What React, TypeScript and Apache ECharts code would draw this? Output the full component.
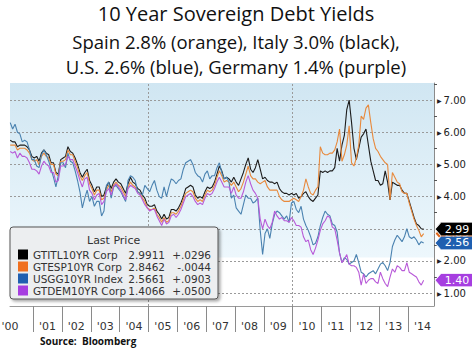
import React, { useEffect, useRef } from "react";
import * as echarts from "echarts";

// ---- data (monthly, Mar 2000 .. Jul 2014) ----
const START_YEAR = 2000;
const START_MONTH = 3;

const italy = [
  5.75, 5.7, 5.7, 5.55, 5.6, 5.6, 5.6, 5.55, 5.45, 5.25,
  5.2, 5.25, 5.1, 5.35, 5.45, 5.35, 5.3, 5.05, 5.05, 4.75, 4.7, 5.15,
  5.2, 5.25, 5.55, 5.4, 5.35, 5.2, 5.0, 4.75, 4.6, 4.75, 4.85, 4.5,
  4.35, 4.15, 4.3, 4.3, 4.0, 4.05, 4.3, 4.45, 4.25, 4.45, 4.55, 4.45,
  4.4, 4.25, 4.1, 4.4, 4.6, 4.45, 4.4, 4.25, 4.2, 4.05, 3.95, 3.75,
  3.7, 3.7, 3.75, 3.55, 3.45, 3.3, 3.45, 3.3, 3.35, 3.6, 3.6, 3.55,
  3.65, 3.8, 4.0, 4.25, 4.3, 4.35, 4.3, 4.05, 3.95, 4.0, 3.95, 4.15,
  4.3, 4.25, 4.3, 4.45, 4.7, 4.95, 4.8, 4.55, 4.6, 4.55, 4.45, 4.6,
  4.45, 4.35, 4.55, 4.75, 5.0, 5.2, 4.85, 4.75, 4.9, 5.15, 4.85, 4.55,
  4.6, 4.5, 4.45, 4.45, 4.4, 4.45, 4.25, 4.15, 4.1, 4.1, 4.05, 4.1,
  4.05, 4.1, 3.95, 4.0, 4.1, 4.15, 4.0, 3.9, 3.85, 3.95, 4.05, 4.8,
  4.75, 4.8, 4.75, 4.8, 4.8, 4.9, 5.5, 5.1, 5.6, 5.9, 6.7, 7.0,
  6.3, 5.5, 5.15, 5.5, 5.85, 5.95, 6.1, 5.6, 5.1, 4.8, 4.5, 4.5,
  4.35, 4.4, 4.8, 4.45, 3.9, 4.45, 4.4, 4.35, 4.35, 4.2, 4.1, 4.1,
  3.85, 3.6, 3.35, 3.15, 3.1, 3.0, 2.99,
];

const spain = [
  5.6, 5.6, 5.6, 5.45, 5.5, 5.5, 5.5, 5.45, 5.35, 5.15,
  5.1, 5.15, 5.0, 5.25, 5.35, 5.25, 5.2, 5.0, 5.0, 4.7, 4.65, 5.1,
  5.1, 5.15, 5.45, 5.3, 5.3, 5.1, 4.9, 4.65, 4.5, 4.65, 4.75, 4.4,
  4.25, 4.05, 4.2, 4.2, 3.9, 3.95, 4.2, 4.35, 4.15, 4.35, 4.45, 4.35,
  4.3, 4.15, 4.0, 4.3, 4.45, 4.35, 4.3, 4.15, 4.1, 3.95, 3.85, 3.65,
  3.6, 3.6, 3.65, 3.45, 3.35, 3.2, 3.35, 3.2, 3.25, 3.5, 3.5, 3.45,
  3.55, 3.7, 3.9, 4.1, 4.15, 4.2, 4.15, 3.95, 3.85, 3.9, 3.85, 4.05,
  4.2, 4.15, 4.2, 4.35, 4.6, 4.8, 4.65, 4.45, 4.5, 4.45, 4.35, 4.45,
  4.3, 4.15, 4.25, 4.45, 4.7, 4.95, 4.65, 4.55, 4.55, 4.45, 4.4, 4.45,
  4.5, 4.3, 4.2, 4.2, 4.2, 4.2, 4.0, 3.9, 3.85, 3.85, 3.85, 3.9,
  3.95, 3.9, 3.85, 4.0, 4.2, 4.55, 4.3, 4.1, 4.05, 4.2, 4.3, 5.55,
  5.35, 5.3, 5.3, 5.35, 5.35, 5.45, 5.7, 6.1, 5.1, 5.3, 5.6, 6.2,
  5.05, 4.95, 5.2, 5.6, 6.5, 6.4, 6.75, 6.85, 6.3, 5.8, 5.5, 5.4,
  5.25, 5.15, 5.05, 5.0, 3.9, 4.75, 4.6, 4.45, 4.4, 4.15, 4.1, 4.1,
  3.8, 3.55, 3.3, 3.1, 2.95, 2.75, 2.85,
];

const us = [
  6.3, 6.1, 6.25, 6.0, 5.95, 5.7, 5.75, 5.7, 5.45, 5.15,
  5.15, 4.95, 4.9, 5.3, 5.45, 5.3, 5.1, 4.85, 4.6, 4.3, 4.65, 5.05,
  5.05, 4.9, 5.35, 5.1, 5.05, 4.8, 4.5, 4.15, 3.65, 3.95, 4.2, 3.85,
  4.0, 3.7, 3.85, 3.85, 3.4, 3.55, 4.35, 4.45, 3.95, 4.3, 4.35, 4.25,
  4.15, 4.0, 3.85, 4.5, 4.65, 4.6, 4.5, 4.15, 4.1, 4.05, 4.35, 4.25,
  4.15, 4.35, 4.5, 4.2, 4.0, 3.95, 4.3, 4.0, 4.3, 4.55, 4.5, 4.4,
  4.5, 4.55, 4.85, 5.05, 5.1, 5.15, 5.0, 4.75, 4.65, 4.6, 4.45, 4.7,
  4.8, 4.55, 4.65, 4.65, 4.9, 5.05, 4.75, 4.55, 4.6, 4.45, 3.95, 4.05,
  3.65, 3.55, 3.45, 3.75, 4.05, 3.95, 3.95, 3.8, 3.85, 3.95, 2.95, 2.2,
  2.85, 3.0, 2.7, 3.15, 3.45, 3.55, 3.5, 3.4, 3.3, 3.4, 3.2, 3.8,
  3.85, 3.6, 3.5, 3.7, 3.3, 3.1, 2.95, 2.75, 2.5, 2.55, 2.75, 3.1,
  3.35, 3.55, 3.45, 3.4, 3.15, 3.1, 2.9, 2.25, 1.95, 2.1, 2.05, 1.9,
  1.95, 2.0, 2.2, 1.95, 1.65, 1.6, 1.5, 1.6, 1.65, 1.7, 1.6, 1.75,
  1.9, 1.95, 1.85, 1.7, 1.95, 2.45, 2.65, 2.8, 2.7, 2.6, 2.75, 3.0,
  2.75, 2.7, 2.75, 2.65, 2.5, 2.6, 2.56,
];

const germany = [
  5.4, 5.35, 5.4, 5.2, 5.35, 5.25, 5.25, 5.2, 5.05, 4.85,
  4.85, 4.8, 4.7, 4.95, 5.1, 5.0, 4.95, 4.75, 4.75, 4.45, 4.5, 4.95,
  4.95, 5.0, 5.25, 5.15, 5.15, 4.95, 4.75, 4.5, 4.3, 4.55, 4.6, 4.2,
  4.1, 3.9, 4.05, 4.1, 3.75, 3.85, 4.15, 4.25, 4.05, 4.3, 4.4, 4.3,
  4.2, 4.05, 3.9, 4.25, 4.35, 4.3, 4.25, 4.1, 4.05, 3.9, 3.75, 3.65,
  3.55, 3.6, 3.6, 3.4, 3.25, 3.1, 3.3, 3.15, 3.2, 3.4, 3.45, 3.35,
  3.45, 3.6, 3.8, 4.0, 4.05, 4.1, 4.0, 3.85, 3.75, 3.8, 3.75, 3.95,
  4.1, 4.05, 4.1, 4.25, 4.45, 4.6, 4.45, 4.3, 4.3, 4.3, 4.1, 4.3,
  4.05, 3.95, 3.95, 4.15, 4.45, 4.65, 4.4, 4.2, 4.1, 3.95, 3.3, 3.0,
  3.3, 3.1, 3.0, 3.2, 3.55, 3.4, 3.3, 3.35, 3.25, 3.25, 3.2, 3.35,
  3.25, 3.1, 3.1, 3.05, 2.75, 2.6, 2.65, 2.35, 2.2, 2.4, 2.65, 2.95,
  3.15, 3.25, 3.4, 3.35, 3.05, 3.0, 2.65, 2.25, 1.95, 2.05, 2.2, 1.9,
  1.85, 1.85, 1.8, 1.65, 1.25, 1.6, 1.3, 1.4, 1.45, 1.45, 1.35, 1.3,
  1.65, 1.45, 1.3, 1.2, 1.5, 1.75, 1.65, 1.85, 1.8, 1.7, 1.7, 1.95,
  1.65, 1.6, 1.55, 1.5, 1.35, 1.25, 1.4,
];

const seriesNames = ["GTITL10YR Corp", "GTESP10YR Corp", "USGG10YR Index", "GTDEM10YR Corp"];
const lastPrices = ["2.9911", "2.8462", "2.5661", "1.4066"];
const changes = ["+.0296", "-.0044", "+.0903", "+.0500"];
const lineColors = ["#1c1c1c", "#e8893c", "#4a82b0", "#b85ad8"];
const swatchColors = ["#000000", "#f07020", "#1f5fb0", "#a63ee0"];
const tagColors = ["#000000", "#e0661a", "#1f5fb0", "#a63ee0"];

const titleLines = [
  "10 Year Sovereign Debt Yields",
  "Spain 2.8% (orange), Italy 3.0% (black),",
  "U.S. 2.6% (blue), Germany 1.4% (purple)",
];

const yearTicks = [2001, 2002, 2003, 2004, 2005, 2006, 2007, 2008, 2009, 2010, 2011, 2012, 2013, 2014];
const yearLabels = ["'00", "'01", "'02", "'03", "'04", "'05", "'06", "'07", "'08", "'09", "'10", "'11", "'12", "'13", "'14"];
const yLabelValues = [1, 2, 3, 4, 5, 6, 7];
const yMinorValues = [1.5, 2.5, 3.5, 4.5, 5.5, 6.5, 7.5];
const verticalGridYears = [2005, 2010];

const X_MIN = 2000.2;
const X_MAX = 2014.9;
const Y_MIN = 0.6;
const Y_MAX = 7.53;

const labelPositions = yearLabels.map((_, i) => (i === 0 ? X_MIN : START_YEAR + i + 0.5));

function toPairs(values: number[]) {
  return values.map((v, i) => [START_YEAR + (START_MONTH - 1 + i + 0.5) / 12, v]);
}

const allSeries = [italy, spain, us, germany];
const tagZ = [7, 5, 7, 7];

export default function App() {
  const ref = useRef<HTMLDivElement>(null);

  useEffect(() => {
    if (!ref.current) return;
    const chart = echarts.init(ref.current, undefined, { renderer: "svg" });

    const series: any[] = allSeries.map((vals, i) => {
      const last = vals[vals.length - 1];
      const s: any = {
        name: seriesNames[i],
        type: "line",
        data: toPairs(vals),
        showSymbol: false,
        symbol: "none",
        clip: false,
        color: lineColors[i],
        lineStyle: { width: 1.1, color: lineColors[i] },
        z: 2,
        markPoint: {
          silent: true,
          z: tagZ[i],
          symbol: "path://M0,6.5 L6,0 L40,0 L40,13 L6,13 Z",
          symbolSize: [38, 13],
          symbolKeepAspect: false,
          symbolOffset: [20, 0],
          itemStyle: { color: tagColors[i], borderColor: "#ffffff", borderWidth: 0.6 },
          label: {
            show: true,
            color: "#ffffff",
            fontSize: 11,
            fontFamily: "DejaVu Sans",
            offset: [3, 0],
            formatter: (p: any) => Number(p.value).toFixed(2),
          },
          data: [{ coord: [X_MAX, last], value: last }],
        },
      };
      if (i === 0) {
        s.markLine = {
          silent: true,
          z: 1,
          symbol: ["none", "none"],
          label: { show: false },
          lineStyle: { color: "#9a9a9a", type: [2, 2], width: 1 },
          data: [
            ...yLabelValues.map((v) => ({ yAxis: v })),
            ...verticalGridYears.map((v) => ({ xAxis: v })),
          ],
        };
      }
      return s;
    });

    const titleStyle = (size: number) => ({
      fontFamily: "Open Sans",
      fontSize: size,
      fontWeight: "normal",
      color: "#111",
    });

    const option: any = {
      animation: false,
      backgroundColor: "#ffffff",
      title: [
        { text: titleLines[0], left: "center", top: 3, padding: 0, textStyle: titleStyle(20) },
        { text: titleLines[1], left: "center", top: 32, padding: 0, textStyle: titleStyle(18.5) },
        { text: titleLines[2], left: "center", top: 57, padding: 0, textStyle: titleStyle(18.5) },
      ],
      grid: {
        left: 10,
        right: 38,
        top: 83,
        bottom: 48,
        containLabel: false,
        outerBoundsMode: "none",
        show: true,
        borderWidth: 0,
        backgroundColor: new echarts.graphic.LinearGradient(0, 0, 0, 1, [
          { offset: 0, color: "#d0e6f2" },
          { offset: 0.78, color: "#edf7fc" },
          { offset: 0.785, color: "#ffffff" },
          { offset: 1, color: "#ffffff" },
        ]),
      },
      xAxis: {
        type: "value",
        min: X_MIN,
        max: X_MAX,
        splitLine: { show: false },
        axisLine: { show: true, lineStyle: { color: "#9a9a9a", width: 1 } },
        axisTick: {
          show: true,
          customValues: yearTicks,
          length: 26,
          lineStyle: { color: "#8a8a8a", width: 1 },
        },
        axisLabel: {
          customValues: labelPositions,
          margin: 15,
          fontSize: 11,
          fontFamily: "DejaVu Sans",
          color: "#333",
          formatter: (v: number) => {
            const idx = labelPositions.findIndex((p) => Math.abs(p - v) < 1e-6);
            return idx >= 0 ? yearLabels[idx] : "";
          },
        },
      },
      yAxis: {
        type: "value",
        position: "right",
        min: Y_MIN,
        max: Y_MAX,
        splitLine: { show: false },
        axisLine: { show: true, lineStyle: { color: "#8a8a8a", width: 1 } },
        axisTick: {
          show: true,
          customValues: yMinorValues,
          length: 3,
          lineStyle: { color: "#555", width: 1 },
        },
        axisLabel: {
          customValues: yLabelValues,
          margin: 3,
          fontFamily: "DejaVu Sans",
          fontSize: 10,
          color: "#222",
          formatter: (v: number) => "{t|▶}" + v.toFixed(2),
          rich: {
            t: { fontSize: 6, color: "#222", padding: [0, 2, 0, 0] },
          },
        },
      },
      legend: {
        orient: "vertical",
        left: 10,
        top: 227,
        icon: "rect",
        itemWidth: 10,
        itemHeight: 10,
        itemGap: 1,
        padding: [22, 7, 3, 8],
        backgroundColor: "#eceef0",
        borderColor: "#555",
        borderWidth: 1,
        borderRadius: 3,
        shadowBlur: 3,
        shadowColor: "rgba(0,0,0,0.35)",
        shadowOffsetX: 2,
        shadowOffsetY: 2,
        selectedMode: false,
        z: 6,
        data: seriesNames.map((n, i) => ({ name: n, itemStyle: { color: swatchColors[i] } })),
        formatter: (name: string) => {
          const i = seriesNames.indexOf(name);
          return `{n|${name}}{v|${lastPrices[i]}}{c|${changes[i]}}`;
        },
        textStyle: {
          fontFamily: "DejaVu Sans",
          fontSize: 10.5,
          color: "#333",
          rich: {
            n: { width: 92, fontSize: 10.5, fontFamily: "DejaVu Sans", color: "#333", lineHeight: 12 },
            v: { width: 40, align: "right", fontSize: 10.5, fontFamily: "DejaVu Sans", color: "#333", lineHeight: 12 },
            c: { width: 46, align: "right", fontSize: 10.5, fontFamily: "DejaVu Sans", color: "#333", lineHeight: 12 },
          },
        },
      },
      graphic: [
        {
          type: "text",
          left: 87,
          top: 235,
          z: 100,
          style: { text: "Last Price", fontFamily: "DejaVu Sans", fontSize: 11, fill: "#333" },
        },
        {
          type: "text",
          left: 40,
          top: 336,
          style: { text: "Source:  Bloomberg", fontFamily: "Open Sans", fontSize: 10, fontWeight: "bold", fill: "#111" },
        },
      ],
      series,
    };

    chart.setOption(option);
    return () => chart.dispose();
  }, []);

  return <div ref={ref} style={{ width: 472, height: 354, position: "absolute", left: 0, top: 0 }} />;
}
